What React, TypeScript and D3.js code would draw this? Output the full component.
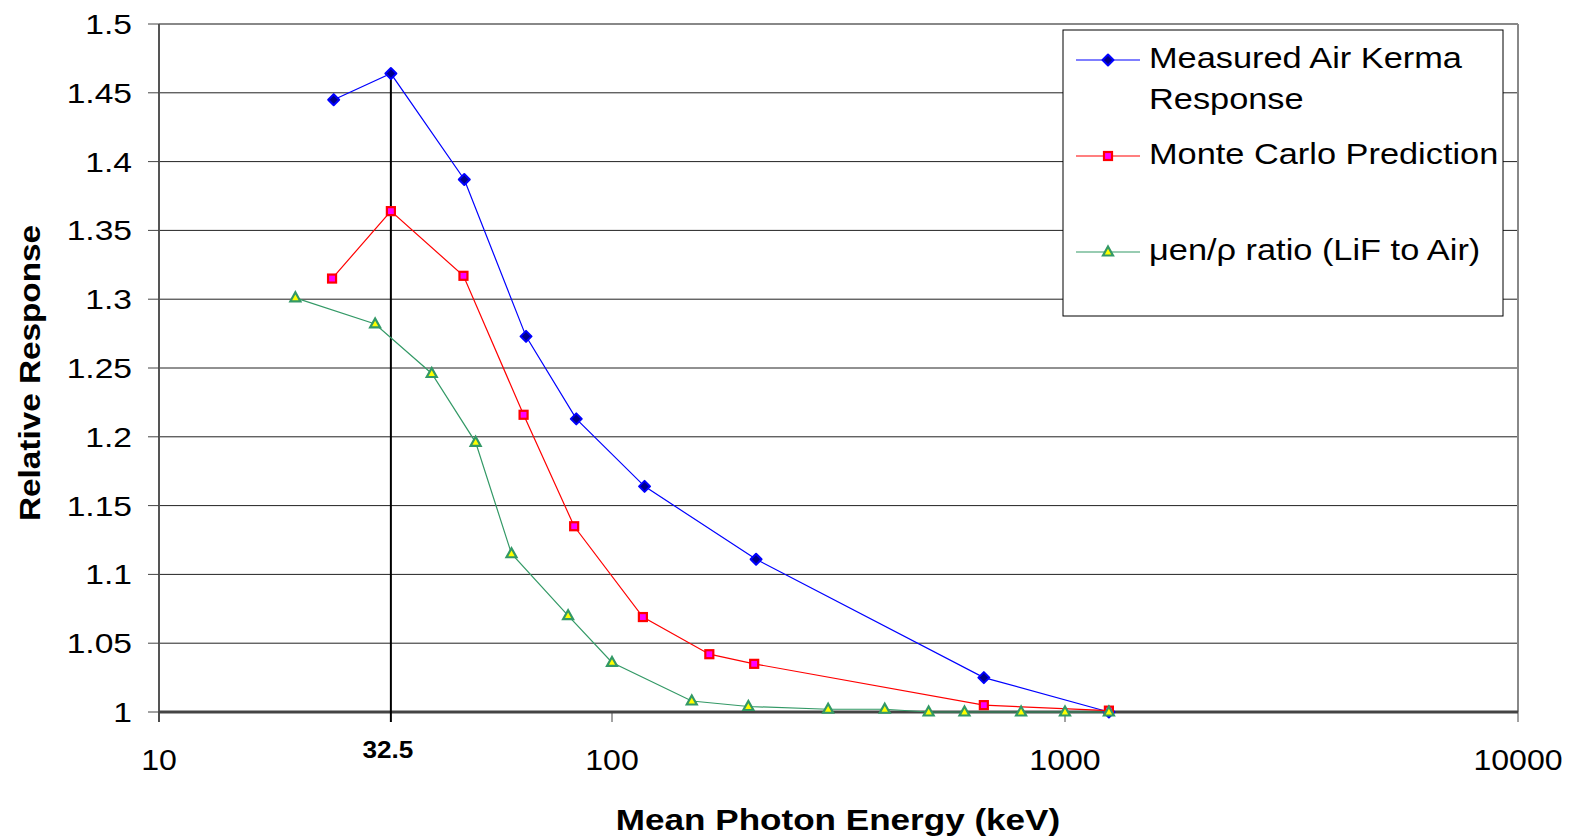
import React from 'react';
import * as d3 from 'd3';

// Mean photon energy (keV) / relative response
const measuredEnergy = [24.3, 32.5, 47.2, 64.6, 83.4, 118, 208, 662, 1250];
const measuredResponse = [1.445, 1.464, 1.387, 1.273, 1.213, 1.164, 1.111, 1.025, 1.0];

const monteCarloEnergy = [24.1, 32.5, 47, 63.8, 82.5, 117, 164, 206, 662, 1250];
const monteCarloResponse = [1.315, 1.364, 1.317, 1.216, 1.135, 1.069, 1.042, 1.035, 1.005, 1.001];

const muEnergy = [20, 30, 40, 50, 60, 80, 100, 150, 200, 300, 400, 500, 600, 800, 1000, 1250];
const muResponse = [1.301, 1.282, 1.246, 1.196, 1.115, 1.07, 1.036, 1.008, 1.004, 1.002, 1.002, 1.0, 1.0, 1.0, 1.0, 1.0];

const xTicks = [10, 100, 1000, 10000];
const yTicks = [1, 1.05, 1.1, 1.15, 1.2, 1.25, 1.3, 1.35, 1.4, 1.45, 1.5];
const markedEnergy = 32.5;
const markedTop = 1.46;

const legendLabels = [['Measured Air Kerma', 'Response'], ['Monte Carlo Prediction'], ['μen/ρ ratio (LiF to Air)']];

const W = 1577;
const H = 839;
const left = 159;
const right = 1518;
const top = 24;
const bottom = 712;
const font = '"Liberation Sans", Arial, sans-serif';

const x = d3.scaleLog().domain([10, 10000]).range([left, right]);
const y = d3.scaleLinear().domain([1, 1.5]).range([bottom, top]);

const line = d3.line<[number, number]>().x(d => x(d[0])).y(d => y(d[1]));

const zip = (a: number[], b: number[]) => a.map((v, i) => [v, b[i]] as [number, number]);

// the original chart's text is stretched sideways a little
const at = (px: number, py: number, sx: number) => `translate(${px},${py}) scale(${sx},1)`;

function Diamond({ cx, cy }: { cx: number; cy: number }) {
  const r = 5.5;
  return (
    <path d={`M${cx},${cy - r}L${cx + r},${cy}L${cx},${cy + r}L${cx - r},${cy}Z`}
      fill="#00008b" stroke="#0000ff" strokeWidth={2} strokeLinejoin="round" />
  );
}

function Square({ cx, cy }: { cx: number; cy: number }) {
  return <rect x={cx - 4} y={cy - 4} width={8} height={8} fill="#ff00ff" stroke="#ff0000" strokeWidth={2.2} />;
}

function Triangle({ cx, cy }: { cx: number; cy: number }) {
  return (
    <path d={`M${cx},${cy - 5.5}L${cx + 5},${cy + 3.5}L${cx - 5},${cy + 3.5}Z`}
      fill="#ffff00" stroke="#339966" strokeWidth={2.2} strokeLinejoin="miter" />
  );
}

const series = [
  { data: zip(measuredEnergy, measuredResponse), color: '#0000ff', Marker: Diamond },
  { data: zip(monteCarloEnergy, monteCarloResponse), color: '#ff0000', Marker: Square },
  { data: zip(muEnergy, muResponse), color: '#339966', Marker: Triangle },
];

export default function App() {
  const legendRows = [60, 156, 252];
  return (
    <div style={{ position: 'absolute', left: 0, top: 0, background: '#fff' }}>
      <svg width={W} height={H} style={{ display: 'block', fontFamily: font }}>
        <rect width={W} height={H} fill="#fff" />

        {/* gridlines */}
        {yTicks.map(t => (
          <line key={'g' + t} x1={left} x2={right} y1={y(t)} y2={y(t)} stroke="#222" strokeWidth={1} />
        ))}

        {/* frame */}
        <line x1={left} x2={right} y1={top} y2={top} stroke="#888" strokeWidth={2} />
        <line x1={right} x2={right} y1={top} y2={bottom} stroke="#888" strokeWidth={2} />
        <line x1={left} x2={left} y1={top} y2={bottom + 10} stroke="#555" strokeWidth={2} />
        <line x1={left} x2={right} y1={bottom} y2={bottom} stroke="#444" strokeWidth={3} />

        {/* y ticks */}
        {yTicks.map(t => (
          <g key={'y' + t}>
            <line x1={left - 11} x2={left} y1={y(t)} y2={y(t)} stroke="#444" strokeWidth={1} />
            <text transform={at(132, y(t) + 10, 1.2)} textAnchor="end" fontSize={28} fill="#000">{t}</text>
          </g>
        ))}

        {/* x ticks */}
        {xTicks.map(t => (
          <g key={'x' + t}>
            <line x1={x(t)} x2={x(t)} y1={bottom} y2={bottom + 10} stroke="#444" strokeWidth={1} />
            <text transform={at(x(t), 770, 1.07)} textAnchor="middle" fontSize={30} fill="#000">{t}</text>
          </g>
        ))}

        {/* marked energy */}
        <line x1={x(markedEnergy)} x2={x(markedEnergy)} y1={y(markedTop)} y2={bottom + 10} stroke="#000" strokeWidth={2} />
        <text transform={at(x(markedEnergy) - 3, 758, 1.09)} textAnchor="middle" fontSize={24} fontWeight="bold">{markedEnergy}</text>

        {/* series */}
        {series.map((s, i) => (
          <g key={'s' + i}>
            <path d={line(s.data) ?? ''} fill="none" stroke={s.color} strokeWidth={1.2} />
            {s.data.map((d, j) => <s.Marker key={j} cx={x(d[0])} cy={y(d[1])} />)}
          </g>
        ))}

        {/* axis titles */}
        <text transform={at(838, 830, 1.17)} textAnchor="middle" fontSize={30} fontWeight="bold">Mean Photon Energy (keV)</text>
        <text transform="translate(40,373) rotate(-90) scale(1.11,1)" textAnchor="middle" fontSize={30} fontWeight="bold">Relative Response</text>

        {/* legend */}
        <rect x={1063} y={30} width={440} height={286} fill="#fff" stroke="#000" strokeWidth={1} />
        {series.map((s, i) => (
          <g key={'l' + i}>
            <line x1={1076} x2={1140} y1={legendRows[i]} y2={legendRows[i]} stroke={s.color} strokeWidth={1.2} />
            <s.Marker cx={1108} cy={legendRows[i]} />
            {legendLabels[i].map((t, k) => (
              <text key={k} transform={at(1149, legendRows[i] + 8 + k * 41, 1.145)} fontSize={30} fill="#000">{t}</text>
            ))}
          </g>
        ))}
      </svg>
    </div>
  );
}
